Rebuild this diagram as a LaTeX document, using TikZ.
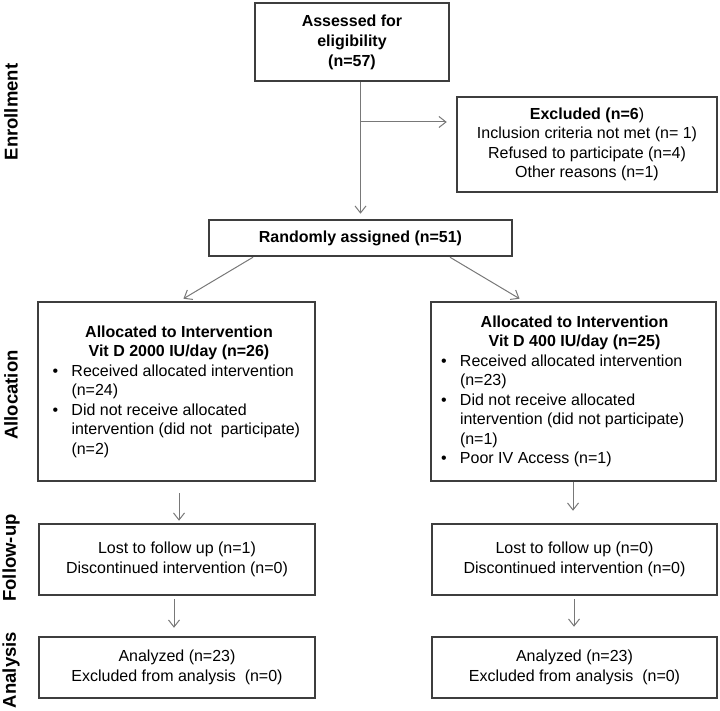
\documentclass[tikz,border=0pt]{standalone}
\usepackage{fontspec}
\setmainfont{Liberation Sans}
\usetikzlibrary{arrows.meta}
\definecolor{boxline}{RGB}{62,62,62}
\definecolor{arrline}{RGB}{120,120,120}
\newcommand\bulletitem[2]{\par{\leftskip=#1\relax\noindent\llap{\makebox[#1][l]{•}}#2\par}}
\tikzset{
  boxst/.style={draw=boxline, line width=2.5pt, inner sep=0pt, align=center,
    font=\fontsize{16}{19.5}\selectfont},
  arr/.style={draw=arrline, line width=1pt, -{Straight Barb[length=7pt,width=11pt]}},
  stagelbl/.style={rotate=90, font=\fontsize{18.5}{20}\selectfont\bfseries, inner sep=0pt}
}
\begin{document}
\begin{tikzpicture}[x=1pt,y=-1pt]
\useasboundingbox (0,0) rectangle (720,711);

% stage labels
\node[stagelbl] (lenr) at (11,112) {Enrollment};
\node[stagelbl] (lall) at (11,395) {Allocation};
\node[stagelbl] (lfol) at (11,558) {Follow-up};
\node[stagelbl] (lana) at (11,670) {Analysis};

% boxes
\node[boxst, minimum width=194pt, minimum height=78pt] (assessed) at (352,42)
  {\bfseries Assessed for\\[0.5pt]\bfseries eligibility\\[0.5pt]\bfseries (n=57)};
\node[boxst, minimum width=260pt, minimum height=95pt] (excluded) at (587,144.5)
  {{\bfseries Excluded (n=6})\\Inclusion criteria not met (n= 1)\\Refused to participate (n=4)\\Other reasons (n=1)};
\node[boxst, minimum width=303pt, minimum height=36pt] (randomly) at (360.5,238)
  {\bfseries Randomly assigned (n=51)};

\node[boxst, minimum width=277pt, minimum height=179pt] (allocL) at (176.5,391.5)
  {\hspace*{5pt}\begin{minipage}{253pt}\fontsize{16}{19.5}\selectfont
   {\centering\bfseries Allocated to Intervention\\ Vit D 2000 IU/day (n=26)\par}
   \raggedright
   \bulletitem{19pt}{Received allocated intervention\\(n=24)}
   \bulletitem{19pt}{Did not receive allocated\\intervention (did not\ \ participate)\\(n=2)}
   \end{minipage}};
\node[boxst, minimum width=285pt, minimum height=179pt] (allocR) at (573.5,391.5)
  {\hspace*{2pt}\begin{minipage}{267pt}\fontsize{16}{19.5}\selectfont
   {\centering\bfseries Allocated to Intervention\\ Vit D 400 IU/day (n=25)\par}
   \raggedright
   \bulletitem{19pt}{Received allocated intervention\\(n=23)}
   \bulletitem{19pt}{Did not receive allocated\\intervention (did not participate)\\(n=1)}
   \bulletitem{19pt}{Poor IV Access (n=1)}
   \end{minipage}};

\node[boxst, minimum width=276pt, minimum height=71pt] (followL) at (177,559.5)
  {Lost to follow up (n=1)\\Discontinued intervention (n=0)};
\node[boxst, minimum width=285pt, minimum height=71pt] (followR) at (574.5,559.5)
  {Lost to follow up (n=0)\\Discontinued intervention (n=0)};
\node[boxst, minimum width=276pt, minimum height=61pt] (analysisL) at (177,667.5)
  {Analyzed (n=23)\\Excluded from analysis\ \ (n=0)};
\node[boxst, minimum width=285pt, minimum height=61pt] (analysisR) at (574.5,667.5)
  {Analyzed (n=23)\\Excluded from analysis\ \ (n=0)};

% connectors
\coordinate (branch) at (randomly.north |- 0,122);
\draw[arr, shorten >=5pt] (randomly.north |- assessed.south) -- (randomly.north);
\draw[arr, shorten >=9pt] (branch) -- (branch -| excluded.west);
\draw[arr, shorten >=4pt] ([xshift=-107.5pt]randomly.south) -- ([xshift=3.5pt]allocL.north);
\draw[arr, shorten >=4pt] ([xshift=89.5pt]randomly.south) -- ([xshift=-50.5pt]allocR.north);
\draw[arr, shorten <=11pt, shorten >=2pt] ([xshift=2.5pt]allocL.south) -- ([xshift=2pt]followL.north);
\draw[arr, shorten >=12pt] ([xshift=-0.5pt]allocR.south) -- ([xshift=-1.5pt]followR.north);
\draw[arr, shorten <=3pt, shorten >=8pt] ([xshift=-3pt]followL.south) -- ([xshift=-3pt]analysisL.north);
\draw[arr, shorten <=3pt, shorten >=9pt] ([xshift=-0.5pt]followR.south) -- ([xshift=-0.5pt]analysisR.north);
\end{tikzpicture}
\end{document}
